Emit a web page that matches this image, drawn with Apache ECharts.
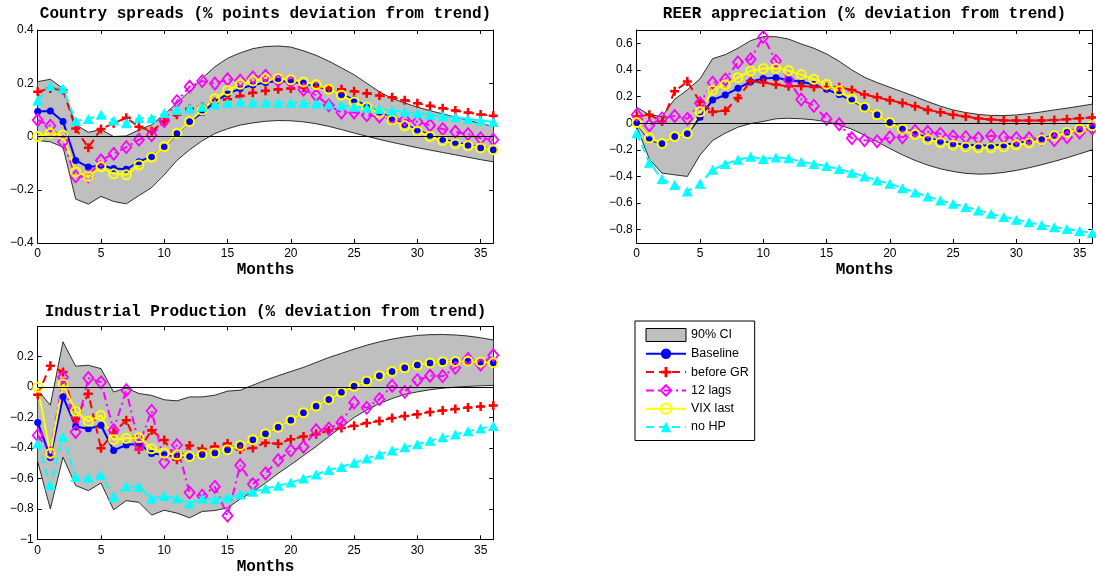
<!DOCTYPE html>
<html><head><meta charset="utf-8">
<script src="https://cdn.jsdelivr.net/npm/echarts@6/dist/echarts.min.js"></script>
<style>html,body{margin:0;padding:0;background:#fff}#c{width:1096px;height:578px}</style>
</head><body><div id="c"></div>
<script>
const months = ['0','1','2','3','4','5','6','7','8','9','10','11','12','13','14','15','16','17','18','19','20','21','22','23','24','25','26','27','28','29','30','31','32','33','34','35','36'];
const titles = ['Country spreads (% points deviation from trend)','REER appreciation (% deviation from trend)','Industrial Production (% deviation from trend)'];
const xName = 'Months';
const seriesNames = ['Baseline','before GR','12 lags','VIX last','no HP'];
const ciName = '90% CI';

// Panel 1: Country spreads
const csLow = [-0.015,-0.02,-0.04,-0.235,-0.254,-0.225,-0.244,-0.253,-0.222,-0.192,-0.144,-0.09,-0.05,-0.016,0.011,0.029,0.043,0.051,0.057,0.06,0.059,0.055,0.048,0.038,0.026,0.013,0.001,-0.011,-0.022,-0.032,-0.042,-0.051,-0.06,-0.069,-0.078,-0.087,-0.095];
const csHigh = [0.206,0.215,0.18,0.044,0.016,0.026,0.0,0.002,0.025,0.044,0.083,0.125,0.17,0.219,0.262,0.294,0.314,0.33,0.338,0.34,0.336,0.322,0.305,0.283,0.258,0.232,0.2,0.168,0.143,0.126,0.11,0.097,0.085,0.073,0.061,0.049,0.038];
const csBase = [0.094,0.096,0.056,-0.09,-0.115,-0.108,-0.12,-0.123,-0.095,-0.075,-0.04,0.01,0.055,0.09,0.13,0.16,0.18,0.193,0.203,0.208,0.205,0.2,0.19,0.175,0.158,0.138,0.115,0.092,0.068,0.045,0.025,0.005,-0.01,-0.022,-0.032,-0.042,-0.05];
const csGR = [0.168,0.18,0.175,0.03,-0.042,0.028,0.05,0.07,0.037,0.02,0.056,0.082,0.104,0.112,0.13,0.14,0.152,0.164,0.172,0.177,0.18,0.184,0.185,0.181,0.177,0.17,0.162,0.154,0.147,0.136,0.125,0.115,0.106,0.098,0.09,0.083,0.078];
const csLags = [0.062,0.04,-0.02,-0.15,-0.15,-0.09,-0.065,-0.04,-0.012,0.005,0.058,0.133,0.187,0.208,0.199,0.215,0.21,0.222,0.228,0.21,0.205,0.176,0.155,0.117,0.09,0.09,0.08,0.075,0.068,0.063,0.055,0.042,0.028,0.018,0.009,-0.007,-0.012];
const csVix = [0,0.012,0.006,-0.133,-0.15,-0.114,-0.14,-0.144,-0.107,-0.078,-0.038,0.012,0.056,0.1,0.142,0.173,0.196,0.208,0.217,0.218,0.213,0.205,0.195,0.178,0.155,0.13,0.11,0.088,0.062,0.04,0.02,0.0,-0.015,-0.028,-0.035,-0.043,-0.05];
const csNoHP = [0.135,0.19,0.18,0.058,0.066,0.082,0.06,0.05,0.069,0.069,0.088,0.1,0.106,0.112,0.12,0.126,0.13,0.128,0.128,0.128,0.127,0.126,0.123,0.12,0.117,0.112,0.108,0.103,0.098,0.093,0.087,0.082,0.077,0.072,0.066,0.06,0.054];

// Panel 2: REER appreciation
const rLow = [-0.025,-0.27,-0.375,-0.388,-0.4,-0.24,-0.13,-0.075,-0.03,-0.003,0.013,0.033,0.037,0.033,0.025,0.01,-0.012,-0.045,-0.09,-0.14,-0.19,-0.238,-0.28,-0.315,-0.343,-0.363,-0.377,-0.383,-0.38,-0.37,-0.355,-0.335,-0.312,-0.287,-0.26,-0.23,-0.2];
const rHigh = [0.12,0.063,0.05,0.18,0.25,0.333,0.485,0.515,0.563,0.62,0.65,0.65,0.632,0.595,0.563,0.52,0.465,0.4,0.345,0.305,0.27,0.235,0.2,0.162,0.128,0.1,0.08,0.066,0.058,0.057,0.062,0.072,0.085,0.1,0.113,0.128,0.143];
const rBase = [0,-0.125,-0.155,-0.1,-0.08,0.045,0.175,0.212,0.262,0.312,0.335,0.342,0.325,0.312,0.29,0.255,0.215,0.17,0.12,0.063,0.005,-0.038,-0.075,-0.11,-0.135,-0.152,-0.162,-0.168,-0.168,-0.162,-0.15,-0.135,-0.115,-0.09,-0.066,-0.043,-0.02];
const rGR = [0.05,0.063,0.012,0.24,0.313,0.16,0.085,0.093,0.19,0.315,0.305,0.29,0.277,0.28,0.272,0.27,0.27,0.25,0.215,0.195,0.172,0.152,0.128,0.1,0.082,0.063,0.05,0.035,0.027,0.021,0.02,0.02,0.02,0.024,0.03,0.037,0.043];
const rLags = [0.063,-0.016,0.036,0.054,0.033,0.15,0.304,0.328,0.457,0.48,0.648,0.468,0.325,0.178,0.13,0.032,-0.008,-0.113,-0.128,-0.136,-0.106,-0.106,-0.058,-0.065,-0.08,-0.1,-0.105,-0.112,-0.095,-0.105,-0.112,-0.113,-0.12,-0.128,-0.105,-0.07,-0.038];
const rVix = [0.005,-0.112,-0.152,-0.1,-0.078,0.085,0.248,0.289,0.342,0.392,0.41,0.412,0.395,0.365,0.33,0.292,0.244,0.182,0.12,0.063,0.005,-0.045,-0.085,-0.123,-0.145,-0.165,-0.178,-0.185,-0.185,-0.178,-0.163,-0.148,-0.125,-0.095,-0.07,-0.045,-0.02];
const rNoHP = [-0.075,-0.297,-0.42,-0.465,-0.513,-0.455,-0.35,-0.306,-0.275,-0.252,-0.269,-0.258,-0.263,-0.29,-0.306,-0.322,-0.345,-0.372,-0.4,-0.43,-0.455,-0.488,-0.52,-0.55,-0.58,-0.605,-0.63,-0.655,-0.68,-0.705,-0.725,-0.745,-0.765,-0.782,-0.795,-0.81,-0.825];

// Panel 3: Industrial Production
const ipLow = [-0.49,-0.8,-0.46,-0.647,-0.68,-0.63,-0.806,-0.746,-0.757,-0.841,-0.809,-0.828,-0.859,-0.817,-0.811,-0.793,-0.735,-0.688,-0.63,-0.567,-0.51,-0.45,-0.39,-0.325,-0.262,-0.2,-0.15,-0.108,-0.075,-0.048,-0.031,-0.017,-0.007,0.0,0.005,0.009,0.012];
const ipHigh = [-0.02,-0.118,0.298,0.138,0.144,0.122,-0.032,-0.005,-0.042,-0.054,-0.083,-0.09,-0.064,-0.064,-0.053,-0.026,-0.02,0.013,0.046,0.075,0.103,0.13,0.162,0.195,0.222,0.25,0.276,0.298,0.316,0.33,0.34,0.345,0.346,0.343,0.336,0.325,0.31];
const ipBase = [-0.232,-0.462,-0.063,-0.258,-0.274,-0.25,-0.416,-0.38,-0.37,-0.436,-0.445,-0.455,-0.455,-0.443,-0.432,-0.412,-0.383,-0.345,-0.306,-0.263,-0.217,-0.168,-0.125,-0.081,-0.034,0.006,0.04,0.075,0.103,0.127,0.145,0.159,0.167,0.169,0.171,0.166,0.16];
const ipGR = [-0.05,0.141,0.1,-0.21,-0.043,-0.402,-0.3,-0.218,-0.41,-0.284,-0.347,-0.477,-0.383,-0.407,-0.39,-0.37,-0.41,-0.4,-0.365,-0.372,-0.342,-0.324,-0.31,-0.285,-0.268,-0.254,-0.236,-0.222,-0.203,-0.19,-0.178,-0.164,-0.154,-0.144,-0.134,-0.127,-0.12];
const ipLags = [-0.317,-0.433,0.065,-0.295,0.06,0.032,-0.283,-0.02,-0.38,-0.156,-0.493,-0.381,-0.693,-0.713,-0.655,-0.845,-0.513,-0.638,-0.567,-0.48,-0.416,-0.392,-0.283,-0.272,-0.232,-0.101,-0.136,-0.079,0.009,-0.031,0.046,0.075,0.072,0.127,0.185,0.149,0.21];
const ipVix = [0,-0.435,0.02,-0.158,-0.224,-0.186,-0.345,-0.336,-0.332,-0.405,-0.433,-0.445,-0.455,-0.443,-0.432,-0.412,-0.383,-0.345,-0.306,-0.263,-0.217,-0.168,-0.125,-0.081,-0.034,0.006,0.04,0.075,0.103,0.127,0.145,0.159,0.167,0.169,0.171,0.166,0.16];
const ipNoHP = [-0.37,-0.644,-0.326,-0.589,-0.596,-0.578,-0.721,-0.651,-0.655,-0.732,-0.716,-0.732,-0.765,-0.732,-0.736,-0.725,-0.705,-0.688,-0.666,-0.648,-0.627,-0.6,-0.574,-0.545,-0.524,-0.497,-0.469,-0.442,-0.416,-0.395,-0.375,-0.352,-0.33,-0.311,-0.29,-0.272,-0.256];

const yMin = [-0.4, -0.9, -1.0];
const yMax = [0.4, 0.7, 0.4];

const panels = [
  {low: csLow, high: csHigh, lines: [csBase, csGR, csLags, csVix, csNoHP]},
  {low: rLow, high: rHigh, lines: [rBase, rGR, rLags, rVix, rNoHP]},
  {low: ipLow, high: ipHigh, lines: [ipBase, ipGR, ipLags, ipVix, ipNoHP]}
];

const gridPos = [
  {left: 37.7, top: 30, width: 455.6, height: 213},
  {left: 636.7, top: 30, width: 455.6, height: 213},
  {left: 37.7, top: 326.3, width: 455.6, height: 213}
];

const plusPath = 'path://M3.6,0H6.4V3.6H10V6.4H6.4V10H3.6V6.4H0V3.6H3.6Z';
const none = 'rgba(0,0,0,0)';
const lineStyles = [
  {color: '#0000ff', type: 'solid', symbol: 'circle', size: 7, fill: '#0000ff', bw: 0},
  {color: '#ff0000', type: [8, 5], symbol: plusPath, size: 9, fill: '#ff0000', bw: 0},
  {color: '#ff00ff', type: [8, 4, 2, 4], symbol: 'diamond', size: [10, 12], fill: none, bw: 1.8},
  {color: '#ffff00', type: 'solid', symbol: 'circle', size: 9, fill: none, bw: 2},
  {color: '#00ffff', type: [8, 5], symbol: 'triangle', size: [11, 10], fill: '#00ffff', bw: 0}
];

function fmt(v) {
  if (Math.abs(v * 5 - Math.round(v * 5)) > 1e-6) return '';
  const r = Math.round(v * 10) / 10;
  if (r === 0) return '0';
  return (r < 0 ? '\u2212' : '') + String(Math.abs(r));
}

const tickFont = {fontFamily: '"Liberation Sans", Arial, sans-serif', fontSize: 12, color: '#000'};
const axLine = {show: true, onZero: false, lineStyle: {color: '#000', width: 1}};

const grids = [], xAxes = [], yAxes = [], series = [];
gridPos.forEach((g, i) => {
  grids.push(Object.assign({outerBoundsMode: 'none', containLabel: false}, g));
  xAxes.push({type: 'category', gridIndex: i, data: months, boundaryGap: false, position: 'bottom',
    axisLine: axLine, axisTick: {show: true, inside: true, length: 4, interval: 4, lineStyle: {color: '#000'}},
    axisLabel: Object.assign({interval: 4, margin: 5}, tickFont), splitLine: {show: false}});
  xAxes.push({type: 'category', gridIndex: i, data: months, boundaryGap: false, position: 'top',
    axisLine: axLine, axisTick: {show: true, inside: true, length: 4, interval: 4, lineStyle: {color: '#000'}},
    axisLabel: {show: false}, splitLine: {show: false}});
  const yBase = {type: 'value', gridIndex: i, min: yMin[i], max: yMax[i], splitLine: {show: false}};
  if (i === 1) { yBase.splitNumber = 8; } else { yBase.interval = 0.2; }
  yAxes.push(Object.assign({}, yBase, {position: 'left', axisLine: axLine,
    axisTick: {show: true, inside: true, length: 4, lineStyle: {color: '#000'}},
    axisLabel: Object.assign({margin: 4, formatter: fmt, showMinLabel: i !== 1 ? true : false, showMaxLabel: i === 0}, tickFont)}));
  yAxes.push(Object.assign({}, yBase, {position: 'right', axisLine: axLine,
    axisTick: {show: true, inside: true, length: 4, lineStyle: {color: '#000'}},
    axisLabel: {show: false}}));

  const p = panels[i];
  const diff = p.high.map((h, k) => +(h - p.low[k]).toFixed(4));
  series.push({type: 'line', name: 'ci-low-' + i, xAxisIndex: 2 * i, yAxisIndex: 2 * i, data: p.low,
    stack: 'ci' + i, stackStrategy: 'all', symbol: 'none', silent: true, animation: false,
    lineStyle: {color: '#000', width: 0.8}, itemStyle: {color: '#000'}});
  series.push({type: 'line', name: ciName, xAxisIndex: 2 * i, yAxisIndex: 2 * i, data: diff,
    stack: 'ci' + i, stackStrategy: 'all', symbol: 'none', silent: true, animation: false,
    lineStyle: {color: '#000', width: 0.8}, itemStyle: {color: '#bfbfbf'},
    areaStyle: {color: '#bfbfbf', opacity: 1},
    markLine: {silent: true, symbol: 'none', animation: false, label: {show: false},
      lineStyle: {color: '#000', width: 1, type: 'solid'}, emphasis: {disabled: true}, data: [{yAxis: 0}]}});
  p.lines.forEach((arr, k) => {
    const s = lineStyles[k];
    series.push({type: 'line', name: seriesNames[k], xAxisIndex: 2 * i, yAxisIndex: 2 * i, data: arr,
      symbol: s.symbol, symbolSize: s.size, showAllSymbol: true, clip: false, silent: true, animation: false,
      lineStyle: {color: s.color, width: 2, type: s.type},
      itemStyle: {color: s.fill, borderColor: s.color, borderWidth: s.bw}});
  });
});

const graphics = [];
const titlePos = [[265.5, 14.3], [864.5, 14.3], [265.5, 311.7]];
titles.forEach((t, i) => graphics.push({type: 'text', x: titlePos[i][0], y: titlePos[i][1], silent: true,
  style: {text: t, font: 'bold 16px "Liberation Mono", "Courier New", monospace', fill: '#000', align: 'center', verticalAlign: 'middle'}}));
const monthsPos = [[265.5, 270], [864.5, 270], [265.5, 566.7]];
monthsPos.forEach(pp => graphics.push({type: 'text', x: pp[0], y: pp[1], silent: true,
  style: {text: xName, font: 'bold 16px "Liberation Mono", "Courier New", monospace', fill: '#000', align: 'center', verticalAlign: 'middle'}}));

const chart = echarts.init(document.getElementById('c'), null, {renderer: 'canvas'});
chart.setOption({
  animation: false,
  backgroundColor: '#fff',
  grid: grids,
  xAxis: xAxes,
  yAxis: yAxes,
  legend: {
    orient: 'vertical', left: 635, top: 321, itemWidth: 40, itemHeight: 13, itemGap: 5.3,
    padding: [7, 6, 7, 10], borderColor: '#000', borderWidth: 1, backgroundColor: '#fff',
    selectedMode: false,
    textStyle: {fontFamily: '"Liberation Sans", Arial, sans-serif', fontSize: 12.5, color: '#000'},
    data: [{name: ciName, icon: 'rect', itemStyle: {color: '#bfbfbf', borderColor: '#000', borderWidth: 1}}].concat(seriesNames)
  },
  graphic: graphics,
  series: series
});
</script>
</body></html>
